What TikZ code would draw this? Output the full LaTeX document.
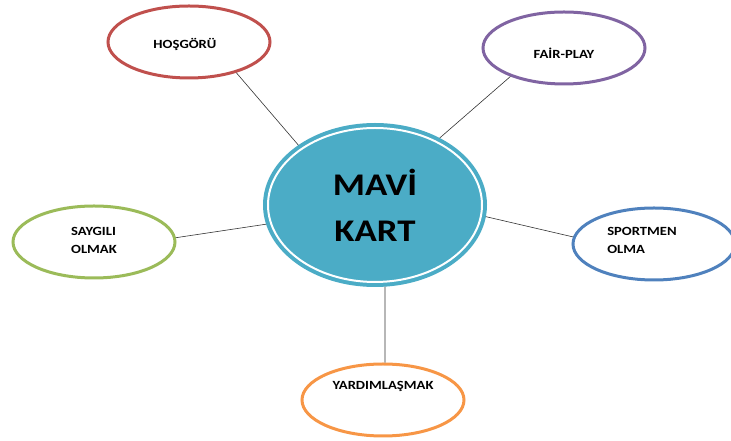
\documentclass[tikz,border=0pt]{standalone}
\usepackage{fontspec}
\usepackage{tikz}
\usetikzlibrary{shapes.geometric}

\newfontfamily\kartfont[FakeStretch=1.17]{Carlito}

\definecolor{kirmizi}{HTML}{C0504D}
\definecolor{mor}{HTML}{8064A2}
\definecolor{yesil}{HTML}{9BBB59}
\definecolor{mavi}{HTML}{4F81BD}
\definecolor{turuncu}{HTML}{F79646}
\definecolor{turkuaz}{HTML}{4BACC6}

\begin{document}
\begin{tikzpicture} [x=1pt,y=1pt,
			deger/.style={ellipse,draw,line width=3pt,minimum width=162pt,minimum height=72pt,inner sep=0pt},
			yazi/.style={font=\kartfont\bfseries\fontsize{12.5}{18}\selectfont,align=left,inner sep=0pt},
			bag/.style={line width=0.6pt,black!80}]
			\useasboundingbox (0,0) rectangle (731,441);
			\clip (0,0) rectangle (731,441);
			
			% orta
			\node[ellipse,fill=turkuaz,draw=turkuaz,double=white,double distance=2pt,line width=4pt,
				minimum width=214pt,minimum height=154pt,outer sep=5pt,
				font=\kartfont\bfseries\fontsize{31.5}{46}\selectfont,align=center] (kart) at (375,236) {MAVİ\\KART};
			
			% degerler
			\node[deger,draw=kirmizi,label={[yazi,xshift=-4pt,yshift=-2pt]center:HOŞGÖRÜ}] (hosgoru) at (189,399) {};
			\node[deger,draw=mor,label={[yazi,yshift=-5pt]center:FAİR-PLAY}] (fairplay) at (564,393) {};
			\node[deger,draw=yesil,label={[yazi,yshift=2pt]center:SAYGILI\\OLMAK}] (saygili) at (94,199) {};
			\node[deger,draw=mavi,label={[yazi,xshift=-12pt,yshift=4pt]center:SPORTMEN\\OLMA}] (sportmen) at (654,197) {};
			\node[deger,draw=turuncu,label={[yazi,yshift=14pt]center:YARDIMLAŞMAK}] (yardim) at (383,41) {};
			
			% baglar
			\draw[bag] (hosgoru.-33) -- (kart.142);
			\draw[bag] (fairplay.-152) -- (kart.46);
			\draw[bag] (saygili.3) -- (kart.190);
			\draw[bag] (sportmen.175) -- (kart.-6);
			\draw[bag] (yardim.87) -- (kart.-83);
\end{tikzpicture}
\end{document}
